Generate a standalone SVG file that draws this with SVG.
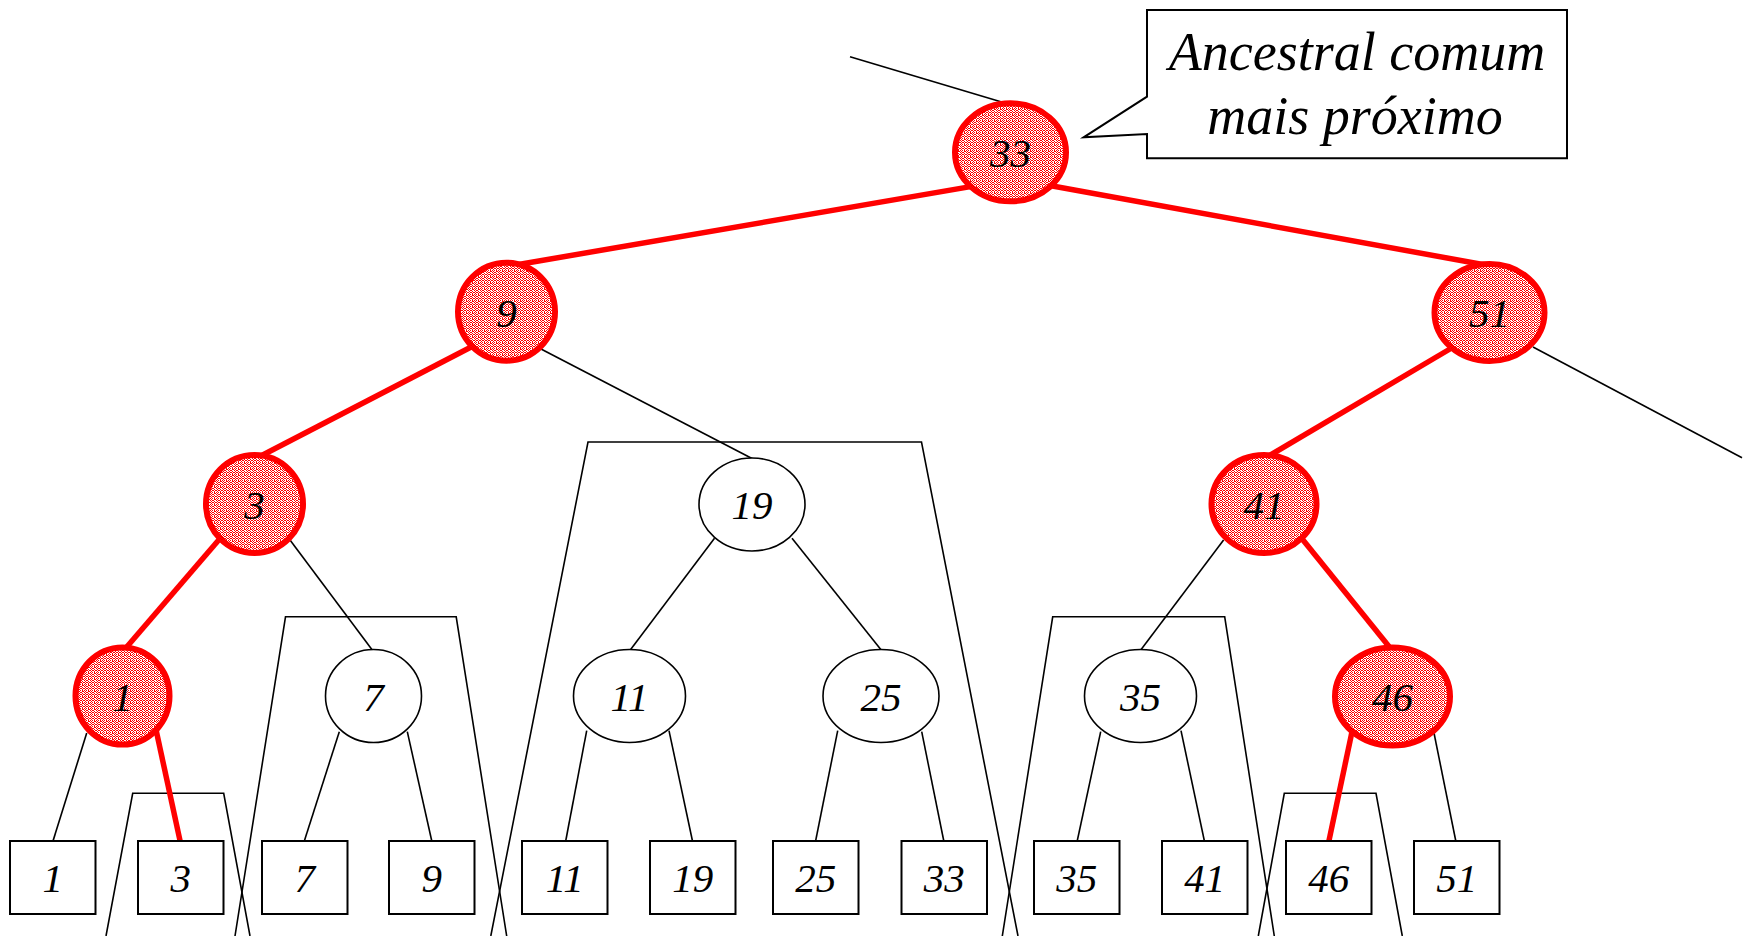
<svg xmlns="http://www.w3.org/2000/svg" width="1749" height="936" viewBox="0 0 1749 936">
<defs>
<pattern id="stip" patternUnits="userSpaceOnUse" x="0" y="0" width="6" height="6">
<rect width="6" height="6" fill="#ff0000"/>
<g fill="#ffffff" shape-rendering="crispEdges">
<rect x="1" y="0" width="1" height="1"/><rect x="3" y="0" width="1" height="1"/><rect x="5" y="0" width="1" height="1"/>
<rect x="0" y="1" width="1" height="1"/><rect x="2" y="1" width="2" height="1"/>
<rect x="1" y="2" width="1" height="1"/><rect x="4" y="2" width="2" height="1"/>
<rect x="0" y="3" width="1" height="1"/><rect x="2" y="3" width="2" height="1"/><rect x="5" y="3" width="1" height="1"/>
<rect x="1" y="4" width="1" height="1"/><rect x="4" y="4" width="1" height="1"/>
<rect x="0" y="5" width="1" height="1"/><rect x="2" y="5" width="2" height="1"/><rect x="5" y="5" width="1" height="1"/>
</g>
</pattern>
</defs>
<style>
.bl{stroke:#000;stroke-width:1.6;fill:none}
.rd{stroke:#ff0000;stroke-width:5.5;fill:none}
.tz{stroke:#000;stroke-width:1.6;fill:none}
.wn{fill:#fff;stroke:#000;stroke-width:1.6}
.rn{fill:url(#stip);stroke:#ff0000;stroke-width:6}
.lf{fill:#fff;stroke:#000;stroke-width:2}
.t{font-family:"Liberation Serif","Times New Roman",serif;font-style:italic;font-size:41px;text-anchor:middle;fill:#000}
.ct{font-family:"Liberation Serif","Times New Roman",serif;font-style:italic;font-size:54px;text-anchor:middle;fill:#000}
</style>
<rect width="1749" height="936" fill="#fff"/>
<g id="subtrees">
<polyline class="tz" points="490.8,936 588,442 921.5,442 1018,936"/>
<polyline class="tz" points="235,936 285.5,616.8 456.2,616.8 506.7,936"/>
<polyline class="tz" points="1002.3,936 1052.7,616.8 1224.7,616.8 1274.3,936"/>
<polyline class="tz" points="106,936 132.7,793.3 223.7,793.3 250,936"/>
<polyline class="tz" points="1258.3,936 1284.3,793.3 1376,793.3 1402.3,936"/>
</g>
<g id="connectors">
<line class="bl" x1="850" y1="56.7" x2="1005" y2="103"/>
<line class="bl" x1="541" y1="349" x2="753" y2="459"/>
<line class="bl" x1="1533" y1="347" x2="1742" y2="457.7"/>
<line class="bl" x1="290" y1="540" x2="373" y2="651"/>
<line class="bl" x1="714.5" y1="538.3" x2="629.5" y2="651"/>
<line class="bl" x1="792" y1="538.3" x2="882" y2="651"/>
<line class="bl" x1="1223.6" y1="540" x2="1140" y2="651"/>
<line class="bl" x1="86.7" y1="733" x2="52.7" y2="842"/>
<line class="bl" x1="339.3" y1="731.7" x2="304" y2="842"/>
<line class="bl" x1="407.3" y1="731.7" x2="432" y2="842"/>
<line class="bl" x1="586.7" y1="730.6" x2="565.5" y2="842"/>
<line class="bl" x1="669" y1="730.6" x2="692.7" y2="842"/>
<line class="bl" x1="837.7" y1="730.6" x2="815.4" y2="842"/>
<line class="bl" x1="921.7" y1="731.7" x2="944" y2="842"/>
<line class="bl" x1="1100.7" y1="731.7" x2="1077" y2="842"/>
<line class="bl" x1="1181" y1="730.6" x2="1204.6" y2="842"/>
<line class="bl" x1="1434" y1="733" x2="1456" y2="842"/>
<line class="rd" x1="972" y1="186.4" x2="509.7" y2="266"/>
<line class="rd" x1="1047" y1="185" x2="1491" y2="266"/>
<line class="rd" x1="475" y1="345" x2="258.8" y2="457"/>
<line class="rd" x1="1455" y1="346" x2="1267" y2="457"/>
<line class="rd" x1="223" y1="535" x2="125" y2="649"/>
<line class="rd" x1="1299" y1="535" x2="1391" y2="649"/>
<line class="rd" x1="155" y1="725" x2="180.3" y2="842"/>
<line class="rd" x1="1353" y1="727" x2="1328.7" y2="842"/>
</g>
<g id="callout">
<path d="M1147,10 H1567 V158.3 H1147 V134 L1083.6,137.3 L1147,96.7 Z" fill="#fff" stroke="#000" stroke-width="2"/>
<text class="ct" x="1357" y="70">Ancestral comum</text>
<text class="ct" x="1355" y="134">mais próximo</text>
</g>
<g id="n33"><ellipse class="rn" cx="1010.5" cy="152.3" rx="55.5" ry="49"/><text class="t" x="1010.5" y="167">33</text></g>
<g id="n9"><ellipse class="rn" cx="506.5" cy="311.7" rx="48.5" ry="49"/><text class="t" x="506.5" y="326.5">9</text></g>
<g id="n51"><ellipse class="rn" cx="1489.5" cy="312.5" rx="55" ry="48.5"/><text class="t" x="1489.5" y="327">51</text></g>
<g id="n3"><ellipse class="rn" cx="254.5" cy="504" rx="48.5" ry="49"/><text class="t" x="254.5" y="519">3</text></g>
<g id="n19"><ellipse class="wn" cx="752" cy="504.5" rx="53" ry="46.5"/><text class="t" x="752" y="519">19</text></g>
<g id="n41"><ellipse class="rn" cx="1264" cy="504" rx="52.5" ry="49"/><text class="t" x="1264" y="519">41</text></g>
<g id="n1"><ellipse class="rn" cx="122.5" cy="696" rx="47" ry="48.5"/><text class="t" x="122.5" y="711">1</text></g>
<g id="n7"><ellipse class="wn" cx="373.5" cy="696" rx="48" ry="46.5"/><text class="t" x="373.5" y="711">7</text></g>
<g id="n11"><ellipse class="wn" cx="629.5" cy="696" rx="56" ry="46.5"/><text class="t" x="629.5" y="711">11</text></g>
<g id="n25"><ellipse class="wn" cx="881" cy="696" rx="58" ry="46.5"/><text class="t" x="881" y="711">25</text></g>
<g id="n35"><ellipse class="wn" cx="1140.5" cy="696" rx="56" ry="46.5"/><text class="t" x="1140.5" y="711">35</text></g>
<g id="n46"><ellipse class="rn" cx="1392.5" cy="696.5" rx="57.5" ry="49"/><text class="t" x="1392.5" y="711">46</text></g>
<g id="leaf1"><rect class="lf" x="10" y="841" width="85.5" height="73"/><text class="t" x="52.7" y="892">1</text></g>
<g id="leaf3"><rect class="lf" x="138" y="841" width="85.5" height="73"/><text class="t" x="180.7" y="892">3</text></g>
<g id="leaf7"><rect class="lf" x="262" y="841" width="85.5" height="73"/><text class="t" x="304.7" y="892">7</text></g>
<g id="leaf9"><rect class="lf" x="389" y="841" width="85.5" height="73"/><text class="t" x="431.7" y="892">9</text></g>
<g id="leaf11"><rect class="lf" x="522" y="841" width="85.5" height="73"/><text class="t" x="564.7" y="892">11</text></g>
<g id="leaf19"><rect class="lf" x="650" y="841" width="85.5" height="73"/><text class="t" x="692.7" y="892">19</text></g>
<g id="leaf25"><rect class="lf" x="773" y="841" width="85.5" height="73"/><text class="t" x="815.7" y="892">25</text></g>
<g id="leaf33"><rect class="lf" x="901.5" y="841" width="85.5" height="73"/><text class="t" x="944.2" y="892">33</text></g>
<g id="leaf35"><rect class="lf" x="1034" y="841" width="85.5" height="73"/><text class="t" x="1076.7" y="892">35</text></g>
<g id="leaf41"><rect class="lf" x="1162" y="841" width="85.5" height="73"/><text class="t" x="1204.7" y="892">41</text></g>
<g id="leaf46"><rect class="lf" x="1286" y="841" width="85.5" height="73"/><text class="t" x="1328.7" y="892">46</text></g>
<g id="leaf51"><rect class="lf" x="1414" y="841" width="85.5" height="73"/><text class="t" x="1456.7" y="892">51</text></g>
</svg>
